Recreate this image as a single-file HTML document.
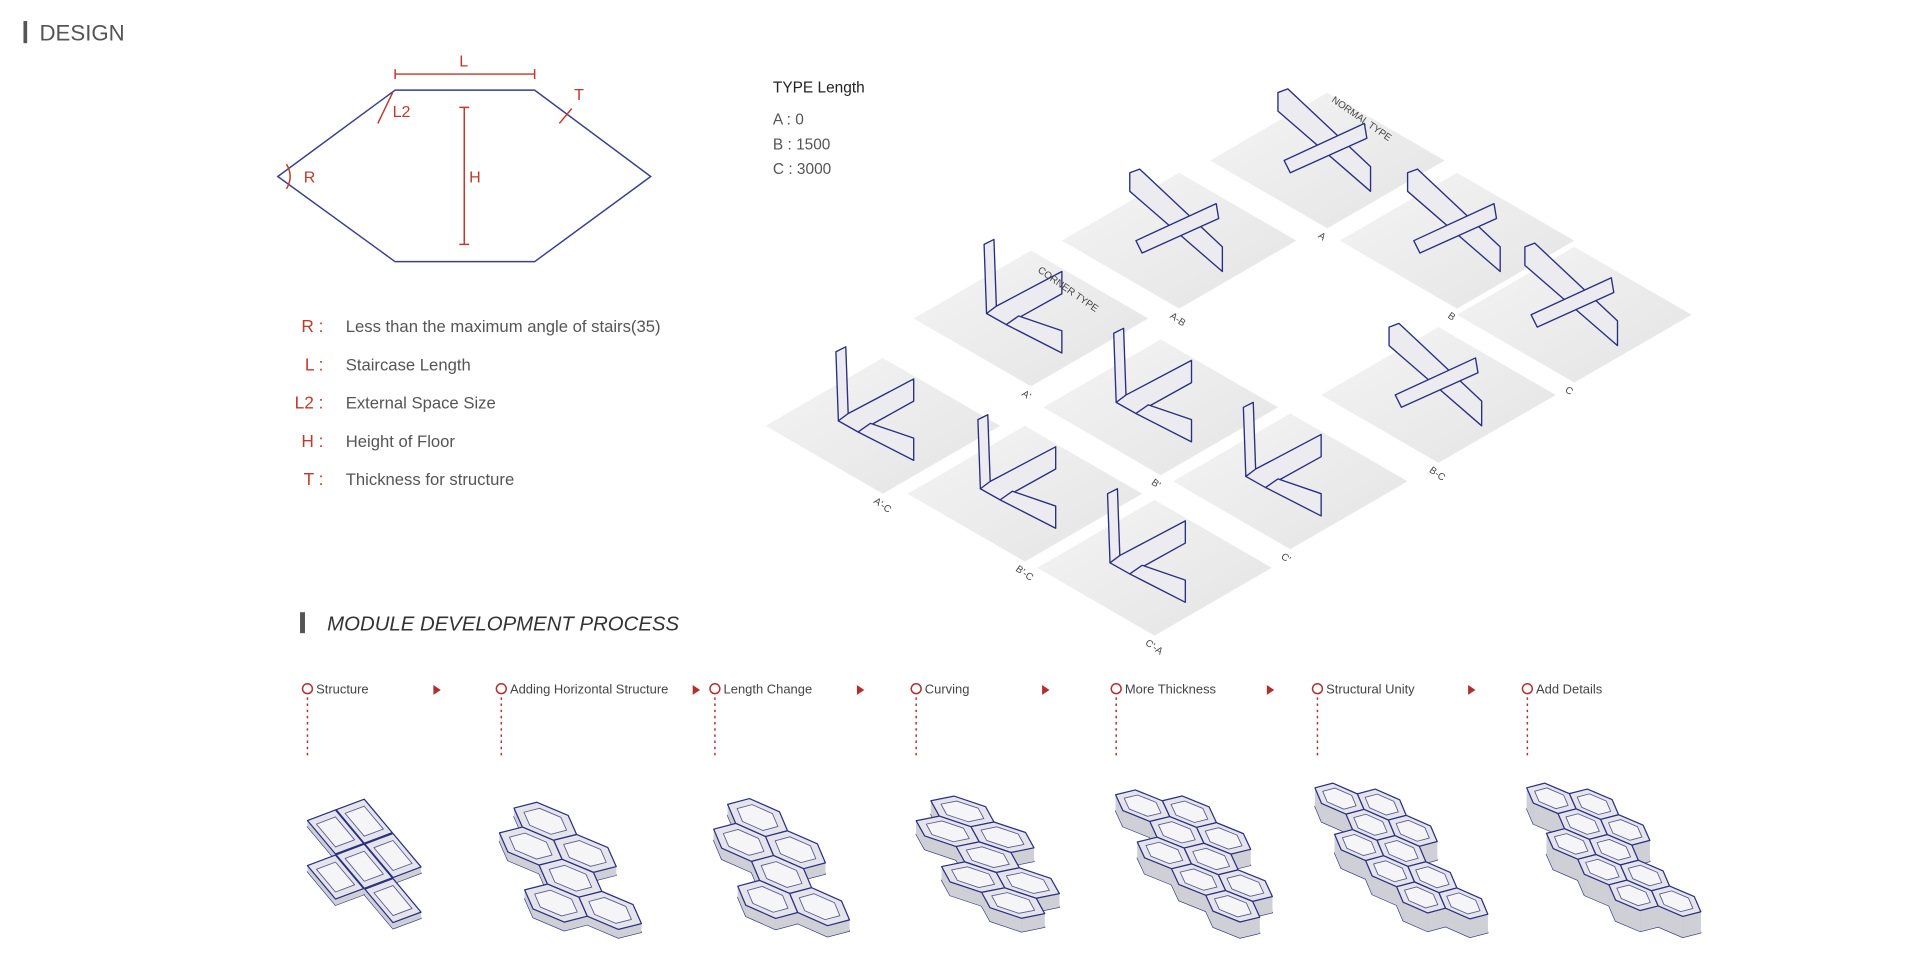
<!DOCTYPE html>
<html><head><meta charset="utf-8">
<style>
html,body{margin:0;padding:0;background:#fff;}
svg{display:block;}
text{font-family:"Liberation Sans","Noto Sans CJK KR",sans-serif;}
</style></head>
<body>
<svg id="s" width="1920" height="980" viewBox="0 0 1555 794" preserveAspectRatio="none" xmlns="http://www.w3.org/2000/svg">
<defs>
<linearGradient id="pl" x1="0" y1="0" x2="1" y2="1">
<stop offset="0" stop-color="#f4f4f4"/><stop offset="1" stop-color="#e4e4e4"/>
</linearGradient>
</defs>
<rect x="19" y="17" width="3" height="18" fill="#555"/>
<text x="32" y="33" font-size="18" fill="#555">DESIGN</text>

<polygon points="225,143 320,73 433,73 527,143 433,212 320,212" fill="none" stroke="#3a3f8f" stroke-width="1.2"/>
<g stroke="#c0392b" stroke-width="1.2" fill="none">
<line x1="320" y1="60" x2="433" y2="60"/><line x1="320" y1="56" x2="320" y2="64"/><line x1="433" y1="56" x2="433" y2="64"/>
<line x1="376" y1="87" x2="376" y2="198"/><line x1="372" y1="87" x2="380" y2="87"/><line x1="372" y1="198" x2="380" y2="198"/>
<line x1="306" y1="100" x2="318" y2="75"/>
<line x1="453" y1="100" x2="463" y2="88"/>
<path d="M232,133 Q238,143 232,153"/>
</g>
<g fill="#c0392b" font-size="13">
<text x="372" y="54">L</text><text x="318" y="95">L2</text><text x="465" y="81">T</text>
<text x="380" y="148">H</text><text x="246" y="148">R</text>
</g>

<g font-size="14" fill="#c0392b" text-anchor="end">
<text x="262" y="269">R :</text><text x="262" y="300">L :</text><text x="262" y="331">L2 :</text><text x="262" y="362">H :</text><text x="262" y="393">T :</text>
</g>
<g font-size="13.5" fill="#555">
<text x="280" y="269">Less than the maximum angle of stairs(35)</text>
<text x="280" y="300">Staircase Length</text>
<text x="280" y="331">External Space Size</text>
<text x="280" y="362">Height of Floor</text>
<text x="280" y="393">Thickness for structure</text>
</g>

<text x="626" y="75" font-size="12.5" fill="#222">TYPE Length</text>
<g font-size="12.5" fill="#555">
<text x="626" y="101">A :  0</text><text x="626" y="121">B :  1500</text><text x="626" y="141">C :  3000</text>
</g>

<g id="iso"></g>

<rect x="243" y="496" width="4" height="17" fill="#555"/>
<text x="265" y="511" font-size="16.5" font-style="italic" fill="#333">MODULE DEVELOPMENT PROCESS</text>
<g id="proc"></g>
</svg>
<script>
var NS="http://www.w3.org/2000/svg";
function el(p,t,a,txt){var e=document.createElementNS(NS,t);for(var k in a)e.setAttribute(k,a[k]);if(txt)e.textContent=txt;p.appendChild(e);return e;}
var iso=document.getElementById('iso');
var plates=[[1075,130,"A"],[955,195,"A-B"],[1180,195,"B"],[1275,255,"C"],[835,258,"A'"],[1165,320,"B-C"],[715,345,"A'-C"],[940,330,"B'"],[1045,390,"C'"],[830,400,"B'-C"],[935,460,"C'-A"]];
plates.forEach(function(p){
 var x=p[0],y=p[1];
 el(iso,'polygon',{points:(x-95)+','+y+' '+x+','+(y-55)+' '+(x+95)+','+y+' '+x+','+(y+55),fill:'url(#pl)'});
 el(iso,'text',{x:x-8,y:y+62,'font-size':8,fill:'#444',transform:'rotate(35 '+(x-8)+' '+(y+62)+')'},p[2]);
 var n=p[2].indexOf("'")>=0;
 var g=el(iso,'g',{fill:'#ececf0',stroke:'#2a2f80','stroke-width':1.1,'stroke-linejoin':'round'});
 if(n){
  el(g,'polygon',{points:(x-38)+','+(y-60)+' '+(x-30)+','+(y-64)+' '+(x-28)+','+(y-8)+' '+(x-36)+','+(y-4)});
  el(g,'polygon',{points:(x-36)+','+(y-4)+' '+(x-28)+','+(y-10)+' '+(x+25)+','+(y-38)+' '+(x+25)+','+(y-20)+' '+(x-20)+','+(y+5)});
  el(g,'polygon',{points:(x-20)+','+(y+5)+' '+(x-10)+','+(y-2)+' '+(x+25)+','+(y+10)+' '+(x+25)+','+(y+28)});
 } else {
  el(g,'polygon',{points:(x-40)+','+(y-55)+' '+(x-32)+','+(y-58)+' '+(x+35)+','+(y+5)+' '+(x+35)+','+(y+25)+' '+(x-40)+','+(y-40)});
  el(g,'polygon',{points:(x-35)+','+(y+0)+' '+(x+30)+','+(y-30)+' '+(x+32)+','+(y-18)+' '+(x-30)+','+(y+10)});
 }
});
el(iso,'text',{x:1078,y:82,'font-size':8,fill:'#444',transform:'rotate(35 1078 82)'},'NORMAL TYPE');
el(iso,'text',{x:840,y:220,'font-size':8,fill:'#444',transform:'rotate(35 840 220)'},'CORNER TYPE');

var proc=document.getElementById('proc');
// x, label, arrow x, cluster center x, width, height, center y
var steps=[[249,"Structure",351,295,92,105,700],[406,"Adding Horizontal Structure",561,462,115,110,705],[579,"Length Change",694,633,110,112,703],[742,"Curving",844,800,116,110,700],[904,"More Thickness",1026,967,127,120,700],[1067,"Structural Unity",1189,1135,140,125,697],[1237,"Add Details",null,1307,141,125,697]];
steps.forEach(function(s,i){
 var x=s[0];
 el(proc,'circle',{cx:x,cy:558,r:4,fill:'#fff',stroke:'#b03030','stroke-width':1.2});
 el(proc,'text',{x:x+7,y:562,'font-size':10.5,fill:'#444'},s[1]);
 if(s[2])el(proc,'polygon',{points:s[2]+',555 '+(s[2]+6)+',559 '+s[2]+',563',fill:'#b03030'});
 el(proc,'line',{x1:x,y1:565,x2:x,y2:613,stroke:'#b03030','stroke-width':1.2,'stroke-dasharray':'2,3'});
 var th=5+i*2;
 var cs=[[0,0],[1,0],[0,1],[1,1],[2,1],[1,2]];
 if(i>=3)cs.push([2,2]);
 if(i>=4)cs.push([-1,1],[0,2]);
 if(i>=5)cs.push([3,1]);
 function proj(px,py){var X=(px-py)*0.87,Y=(px+py)*0.5;return [X*0.9,Y+X*0.3];}
 var polys=[];var minx=1e9,maxx=-1e9,miny=1e9,maxy=-1e9;
 cs.forEach(function(c){
  var cx,cy,sides,off,R;
  if(i==0){cx=c[0]*2.1;cy=c[1]*2.1;sides=4;off=Math.PI/4;R=1.45;}
  else{cx=Math.sqrt(3)*(c[0]+c[1]/2);cy=1.5*c[1];sides=6;off=Math.PI/6;R=1;}
  var o=[],inn=[];
  for(var a=0;a<sides;a++){var ang=off+2*Math.PI*a/sides;
   var q=proj(cx+R*Math.cos(ang),cy+R*Math.sin(ang));o.push(q);
   inn.push(proj(cx+R*0.68*Math.cos(ang),cy+R*0.68*Math.sin(ang)));
   minx=Math.min(minx,q[0]);maxx=Math.max(maxx,q[0]);miny=Math.min(miny,q[1]);maxy=Math.max(maxy,q[1]);}
  polys.push([o,inn]);
 });
 var sx=s[4]/(maxx-minx), sy=(s[5]-th)/(maxy-miny);
 var cxm=(minx+maxx)/2, cym=(miny+maxy)/2;
 var dx=s[3], dy=s[6]-th/2;
 function str(a,ex){return a.map(function(q){return ((q[0]-cxm)*sx+dx).toFixed(1)+','+((q[1]-cym)*sy+dy+ex).toFixed(1);}).join(' ');}
 var g=el(proc,'g',{'stroke-linejoin':'round'});
 polys.forEach(function(p){el(g,'polygon',{points:str(p[0],th),fill:'#b9b9c2',stroke:'#2a2f80','stroke-width':1});});
 polys.forEach(function(p){
  for(var j=0;j<p[0].length;j++){var a=p[0][j],b=p[0][(j+1)%p[0].length];
   el(g,'polygon',{points:str([a,b],0)+' '+str([b,a],th),fill:'#cfcfd6',stroke:'none'});}
 });
 polys.forEach(function(p){
  el(g,'polygon',{points:str(p[0],0),fill:'#e4e4ea',stroke:'#2a2f80','stroke-width':1});
  el(g,'polygon',{points:str(p[1],0),fill:'#f5f5f7',stroke:'#555a90','stroke-width':0.7});
 });
});
</script>
</body></html>
